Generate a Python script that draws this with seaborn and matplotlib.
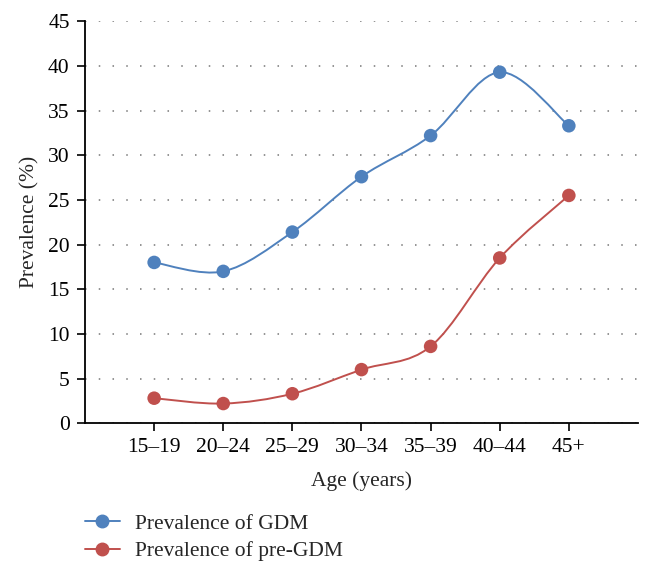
import numpy as np
import pandas as pd
import matplotlib.pyplot as plt
from matplotlib.path import Path
from matplotlib.patches import PathPatch
from matplotlib.lines import Line2D
import seaborn as sns

sns.set_style("ticks")
plt.rcParams['font.family'] = ['Liberation Serif', 'DejaVu Serif']
plt.rcParams['font.size'] = 15.5

# 年龄组
age_groups = ["15–19", "20–24", "25–29", "30–34", "35–39", "40–44", "45+"]
# 患病率 (%)
gdm = [18.0, 17.0, 21.4, 27.6, 32.2, 39.3, 33.3]
pre_gdm = [2.8, 2.2, 3.3, 6.0, 8.6, 18.5, 25.5]

series_names = ["Prevalence of GDM", "Prevalence of pre-GDM"]
colors = ["#4F81BD", "#C0504D"]

df = pd.DataFrame({
    "age": age_groups * 2,
    "value": gdm + pre_gdm,
    "series": [series_names[0]] * 7 + [series_names[1]] * 7,
})


def smooth_path(xs, ys, k=1 / 6):
    # 平滑曲线 (Catmull-Rom -> Bezier)
    pts = np.column_stack([xs, ys]).astype(float)
    verts = [pts[0]]
    codes = [Path.MOVETO]
    n = len(pts)
    for i in range(n - 1):
        p0 = pts[max(i - 1, 0)]
        p1 = pts[i]
        p2 = pts[i + 1]
        p3 = pts[min(i + 2, n - 1)]
        c1 = p1 + (p2 - p0) * k
        c2 = p2 - (p3 - p1) * k
        verts += [c1, c2, p2]
        codes += [Path.CURVE4] * 3
    return Path(verts, codes)


fig = plt.figure(figsize=(6.49, 5.75), dpi=100)
ax = fig.add_axes([0.131, 0.264, 0.852, 0.699])

ax.yaxis.grid(True, linestyle=(0, (1, 8)), color="#777777", linewidth=1.1)
ax.set_axisbelow(True)

xpos = np.arange(len(age_groups))
for vals, c in zip([gdm, pre_gdm], colors):
    ax.add_patch(PathPatch(smooth_path(xpos, vals), facecolor="none",
                           edgecolor=c, linewidth=1.4, zorder=2))

sns.scatterplot(data=df, x="age", y="value", hue="series", palette=colors,
                s=95, edgecolor="none", legend=False, ax=ax, zorder=3)

ax.set_xlim(-1, 7)
ax.set_ylim(0, 45)
ax.set_yticks(range(0, 46, 5))
ax.set_xticks(xpos)
ax.set_xticklabels(age_groups)
ax.set_xlabel("Age (years)", labelpad=10)
ax.set_ylabel("Prevalence (%)", labelpad=6)
ax.tick_params(axis="both", length=6, width=1.2, colors="black",
               labelsize=15.5, pad=5)
for s in ["top", "right"]:
    ax.spines[s].set_visible(False)
for s in ["left", "bottom"]:
    ax.spines[s].set_linewidth(1.3)
    ax.spines[s].set_color("black")

handles = [Line2D([0], [0], color=c, marker="o", markersize=9, linewidth=1.4)
           for c in colors]
fig.legend(handles, series_names, loc="upper left",
           bbox_to_anchor=(0.118, 0.122), frameon=False, fontsize=15.5,
           handlelength=1.6, handletextpad=0.7, labelspacing=0.35,
           borderaxespad=0)

fig.savefig("out.png", dpi=100)
